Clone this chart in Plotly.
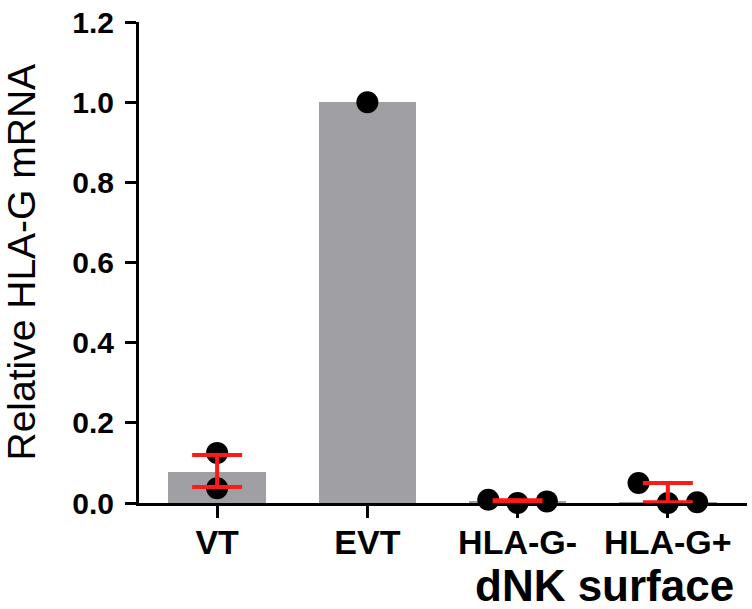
import plotly.graph_objects as go

# ---- data ----
categories = ["VT", "EVT", "HLA-G-", "HLA-G+"]
bar_heights = [0.078, 1.000, 0.004, 0.002]     # gray bars
err_centers = [0.080, 1.000, 0.004, 0.026]     # centre of red error bars
err_sizes = [0.040, 0.000, 0.003, 0.024]       # half-length of red error bars
points = [
    [0.125, 0.037],          # VT
    [1.000],                 # EVT
    [0.008, 0.000, 0.004],   # HLA-G-
    [0.050, 0.000, 0.002],   # HLA-G+
]
y_ticks = [0.0, 0.2, 0.4, 0.6, 0.8, 1.0, 1.2]
y_title = "Relative HLA-G mRNA"
x_title = "dNK surface"

# ---- styling ----
FONT = "Arial, Liberation Sans, Helvetica, sans-serif"
BAR_COLOR = "#a09fa4"
ERR_COLOR = "#ff1a1a"

W, H = 752, 609
L, R, T, B = 139, 5, 20, 106
PLOT_W = W - L - R
PLOT_H = H - T - B

xpos = list(range(len(categories)))

fig = go.Figure()
fig.add_trace(go.Bar(
    x=xpos, y=bar_heights, width=0.65,
    marker=dict(color=BAR_COLOR, line=dict(width=0)),
    showlegend=False, hoverinfo="skip",
))

# individual points (spread horizontally in groups of 3)
px, py = [], []
for i, vals in enumerate(points):
    n = len(vals)
    for k, v in enumerate(vals):
        off = (k - (n - 1) / 2) * 0.195 if n >= 3 else 0.0
        px.append(i + off)
        py.append(v)
fig.add_trace(go.Scatter(
    x=px, y=py, mode="markers",
    marker=dict(color="black", size=22, line=dict(width=0)),
    cliponaxis=False, showlegend=False,
))

# red error bars on top of the dots
err_x = [i for i, e in zip(xpos, err_sizes) if e > 0]
err_y = [m for m, e in zip(err_centers, err_sizes) if e > 0]
err_v = [e for e in err_sizes if e > 0]
fig.add_trace(go.Scatter(
    x=err_x, y=err_y, mode="markers",
    marker=dict(size=1, color="rgba(0,0,0,0)"),
    error_y=dict(type="data", array=err_v, visible=True,
                 color=ERR_COLOR, thickness=4, width=25),
    cliponaxis=False, showlegend=False,
))

fig.update_layout(
    width=W, height=H,
    margin=dict(l=L, r=R, t=T, b=B),
    paper_bgcolor="white", plot_bgcolor="white",
    font=dict(family=FONT, color="black"),
    bargap=0,
)
fig.update_xaxes(
    range=[-0.52, 3.527],
    tickmode="array", tickvals=xpos, ticktext=categories,
    tickfont=dict(family=FONT, size=34, color="black", weight="bold"),
    showline=True, linecolor="black", linewidth=3,
    ticks="outside", ticklen=12, tickwidth=3, tickcolor="black",
    showgrid=False, zeroline=False, layer="below traces",
    ticklabelstandoff=-5, ticklabeloverflow="allow",
)
fig.update_yaxes(
    range=[0, 1.2],
    tickmode="array", tickvals=y_ticks,
    ticktext=[f"{v:.1f}" for v in y_ticks],
    tickfont=dict(family=FONT, size=30, color="black", weight="bold"),
    showline=True, linecolor="black", linewidth=3,
    ticks="outside", ticklen=11, tickwidth=3, tickcolor="black",
    showgrid=False, zeroline=False, layer="below traces",
    ticklabelstandoff=5, ticklabeloverflow="allow",
)

fig.add_annotation(
    text=y_title, textangle=-90, showarrow=False,
    xref="paper", yref="paper", x=(21 - L) / PLOT_W, y=0.5,
    xanchor="center", yanchor="middle",
    font=dict(family=FONT, size=39, color="black"),
)
fig.add_annotation(
    text=x_title, showarrow=False,
    xref="x", yref="paper", x=2.58, y=(PLOT_H - (586 - T)) / PLOT_H,
    xanchor="center", yanchor="middle",
    font=dict(family=FONT, size=44, color="black", weight="bold"),
)

fig.write_html("out.html", config={"displayModeBar": False},
               post_script="document.body.style.margin='0';")
